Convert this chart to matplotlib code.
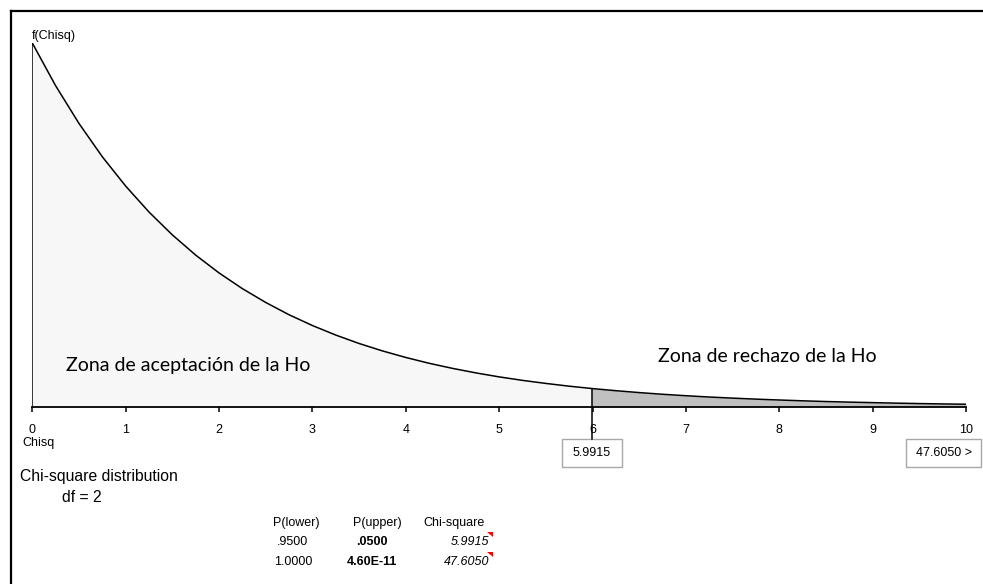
import matplotlib
matplotlib.use('Agg')
import matplotlib.pyplot as plt
from matplotlib.patches import Rectangle, Polygon
from matplotlib.transforms import blended_transform_factory

plt.rcParams['font.family'] = ['Liberation Sans', 'DejaVu Sans']

# density of chi-square (df=2), every 0.25
chisq_x = [0.0, 0.25, 0.5, 0.75, 1.0, 1.25, 1.5, 1.75, 2.0, 2.25, 2.5, 2.75,
           3.0, 3.25, 3.5, 3.75, 4.0, 4.25, 4.5, 4.75, 5.0, 5.25, 5.5, 5.75,
           6.0, 6.25, 6.5, 6.75, 7.0, 7.25, 7.5, 7.75, 8.0, 8.25, 8.5, 8.75,
           9.0, 9.25, 9.5, 9.75, 10.0]
density = [0.5, 0.4412, 0.3894, 0.3436, 0.3033, 0.2676, 0.2362, 0.2084,
           0.1839, 0.1623, 0.1433, 0.1264, 0.1116, 0.0985, 0.0869, 0.0767,
           0.0677, 0.0597, 0.0527, 0.0465, 0.0410, 0.0362, 0.0320, 0.0282,
           0.0249, 0.0220, 0.0194, 0.0171, 0.0151, 0.0133, 0.0118, 0.0104,
           0.0092, 0.0081, 0.0071, 0.0063, 0.0056, 0.0049, 0.0043, 0.0038,
           0.0034]
crit_x = 5.9915
crit_y = 0.0250
xticks = [0, 1, 2, 3, 4, 5, 6, 7, 8, 9, 10]

table_header = ['P(lower)', 'P(upper)', 'Chi-square']
p_lower = ['.9500', '1.0000']
p_upper = ['.0500', '4.60E-11']
chi_vals = ['5.9915', '47.6050']

W, H = 983, 584
fig = plt.figure(figsize=(W / 100, H / 100), dpi=100)


def fx(px):
    return px / W


def fy(py):
    return 1 - py / H


ax = fig.add_axes([fx(32.3), fy(406.7), (966 - 32.3) / W, (406.7 - 43) / H])

# split the curve at the critical value
left_x = [x for x in chisq_x if x < crit_x] + [crit_x]
left_y = [y for x, y in zip(chisq_x, density) if x < crit_x] + [crit_y]
right_x = [crit_x] + [x for x in chisq_x if x > crit_x]
right_y = [crit_y] + [y for x, y in zip(chisq_x, density) if x > crit_x]

ax.fill_between(left_x, 0, left_y, color='#f7f7f7', lw=0)
ax.fill_between(right_x, 0, right_y, color='#c0c0c0', lw=0)
ax.plot(chisq_x, density, color='black', lw=1.1, solid_joinstyle='round')
ax.plot([0, 0], [0, density[0]], color='black', lw=1.1)
ax.plot([crit_x, crit_x], [0, crit_y], color='black', lw=1.1)

ax.set_xlim(0, 10)
ax.set_ylim(0, 0.5)
for s in ['top', 'right', 'left']:
    ax.spines[s].set_visible(False)
ax.spines['bottom'].set_linewidth(1.3)
ax.set_yticks([])
ax.set_xticks(xticks)
ax.set_xticklabels([str(t) for t in xticks])
ax.tick_params(axis='x', direction='out', length=3.5, width=1.1, pad=9,
               labelsize=9)
ax.patch.set_visible(False)

# critical value line down to its label box
tr = blended_transform_factory(ax.transData, fig.transFigure)
fig.add_artist(plt.Line2D([crit_x, crit_x], [fy(406.7), fy(439)], transform=tr,
                          color='black', lw=1.1))

# value boxes
fig.add_artist(Rectangle((fx(562), fy(467)), (622 - 562) / W, (467 - 439) / H,
                         transform=fig.transFigure, facecolor='white',
                         edgecolor='#a8a8a8', lw=1))
fig.text(fx(592), fy(453), chi_vals[0], ha='center', va='center', fontsize=9)
fig.add_artist(Rectangle((fx(906), fy(467)), (981 - 906) / W, (467 - 439) / H,
                         transform=fig.transFigure, facecolor='white',
                         edgecolor='#a8a8a8', lw=1))
fig.text(fx(944), fy(453), chi_vals[1] + ' >', ha='center', va='center',
         fontsize=9)

# outer frame
fig.add_artist(plt.Line2D([fx(10.7), fx(10.7)], [0, fy(10.7)],
                          transform=fig.transFigure, color='black', lw=1.6))
fig.add_artist(plt.Line2D([fx(10.7), 1], [fy(10.7), fy(10.7)],
                          transform=fig.transFigure, color='black', lw=1.6))

fig.text(fx(32), fy(36), 'f(Chisq)', ha='left', va='center', fontsize=9)
fig.text(fx(22), fy(443), 'Chisq', ha='left', va='center', fontsize=9)
fig.text(fx(20), fy(476), 'Chi-square distribution', ha='left', va='center',
         fontsize=11.3)
fig.text(fx(62), fy(498), 'df = 2', ha='left', va='center', fontsize=11.3)

# zone labels
fig.text(fx(66), fy(365), 'Zona de aceptación de la Ho', ha='left',
         va='center', fontsize=14, family='Lato')
fig.text(fx(658), fy(357), 'Zona de rechazo de la Ho', ha='left',
         va='center', fontsize=14, family='Lato')

# probability table
fig.text(fx(296), fy(523), table_header[0], ha='center', va='center', fontsize=9)
fig.text(fx(377), fy(523), table_header[1], ha='center', va='center', fontsize=9)
fig.text(fx(485), fy(523), table_header[2], ha='right', va='center', fontsize=9)
for i, row_y in enumerate([542, 562]):
    fig.text(fx(293), fy(row_y), p_lower[i], ha='center', va='center',
             fontsize=9)
    fig.text(fx(372), fy(row_y), p_upper[i], ha='center', va='center',
             fontsize=9, fontweight='bold')
    fig.text(fx(489), fy(row_y), chi_vals[i], ha='right', va='center',
             fontsize=9, style='italic')
    fig.add_artist(Polygon([(fx(487), fy(row_y - 10)), (fx(493), fy(row_y - 10)),
                            (fx(493), fy(row_y - 5))], closed=True,
                           transform=fig.transFigure, color='red', lw=0))

fig.savefig('out.png', dpi=100)
